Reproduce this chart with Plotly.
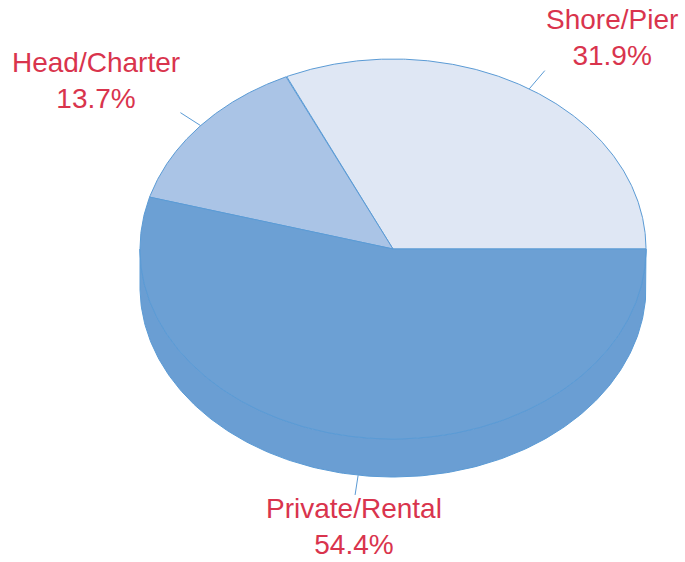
import numpy as np
import plotly.graph_objects as go

# ---- data ----
categories = ["Shore/Pier", "Head/Charter", "Private/Rental"]
shares = [31.9, 13.7, 54.4]
top_colors = ["#DFE7F4", "#AAC4E6", "#6CA0D4"]
side_colors = ["#C9D6EC", "#98B6DE", "#6A9ED3"]

# ---- geometry (pixel-like plot units) ----
W, H = 685, 562
CX, CY, RX, RY, DEPTH = 393, 249, 253, 190, 38
EDGE = "#5B9BD5"
LABEL_COLOR = "#D9344D"


def ell(theta_deg, dy=0.0):
    t = np.radians(theta_deg)
    return CX + RX * np.cos(t), CY - RY * np.sin(t) + dy


total = sum(shares)
starts, ends = [], []
acc = 0.0
for s in shares:
    starts.append(acc / total * 360.0)
    acc += s
    ends.append(acc / total * 360.0)

fig = go.Figure()

# side walls (front half, 180..360 degrees)
for cat, a0, a1, col in zip(categories, starts, ends, side_colors):
    lo, hi = max(a0, 180.0), min(a1, 360.0)
    if hi <= lo:
        continue
    th = np.linspace(lo, hi, 200)
    xt, yt = ell(th)
    xb, yb = ell(th[::-1], DEPTH)
    xs = np.concatenate([xt, xb, xt[:1]])
    ys = np.concatenate([yt, yb, yt[:1]])
    fig.add_trace(go.Scatter(x=xs, y=ys, mode="lines", fill="toself",
                             fillcolor=col, line=dict(color=EDGE, width=1),
                             hoverinfo="skip", showlegend=False))

# top faces
for cat, a0, a1, col in zip(categories, starts, ends, top_colors):
    th = np.linspace(a0, a1, 300)
    xa, ya = ell(th)
    xs = np.concatenate([[CX], xa, [CX]])
    ys = np.concatenate([[CY], ya, [CY]])
    fig.add_trace(go.Scatter(x=xs, y=ys, mode="lines", fill="toself",
                             fillcolor=col, line=dict(color=EDGE, width=1),
                             name=cat, hoverinfo="skip", showlegend=False))

# leader lines and labels
label_pos = [(612, 37, "middle"), (96, 80, "middle"), (354, 561, "bottom")]
for cat, s, a0, a1, (lx, ly, yanc) in zip(categories, shares, starts, ends, label_pos):
    mid = (a0 + a1) / 2.0
    dy = DEPTH if 180 < mid < 360 else 0.0
    px, py = ell(mid, dy)
    vx, vy = px - CX, py - CY
    n = np.hypot(vx, vy)
    L = 24 if dy == 0 else 20
    qx, qy = px + vx / n * L, py + vy / n * L
    fig.add_trace(go.Scatter(x=[px, qx], y=[py, qy], mode="lines",
                             line=dict(color=EDGE, width=1),
                             hoverinfo="skip", showlegend=False))
    fig.add_annotation(x=lx, y=ly, text=f"{cat}<br>{s:.1f}%", showarrow=False,
                       xanchor="center", yanchor=yanc, align="center",
                       borderpad=0,
                       font=dict(family="Liberation Sans, Arial, sans-serif",
                                 size=28, color=LABEL_COLOR))

fig.update_layout(
    width=W, height=H, margin=dict(l=0, r=0, t=0, b=0),
    paper_bgcolor="white", plot_bgcolor="white",
    xaxis=dict(range=[0, W], visible=False, fixedrange=True),
    yaxis=dict(range=[H, 0], visible=False, fixedrange=True),
)

fig.write_html("out.html", config={"displayModeBar": False},
               post_script="document.body.style.margin='0px';"
                           "document.body.style.overflow='hidden';")
